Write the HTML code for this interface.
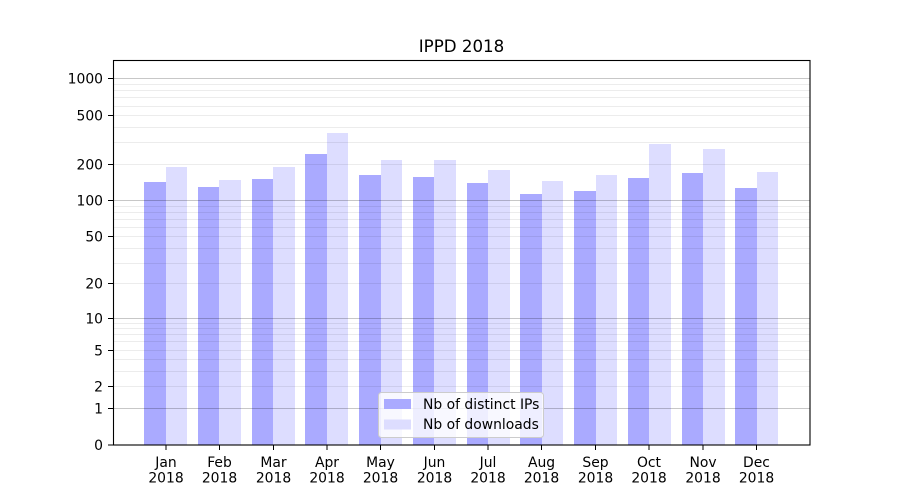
<!DOCTYPE html>
<html>
<head>
<meta charset="utf-8">
<style>
html,body{margin:0;padding:0;background:#fff;}
svg{display:block;}
text{font-family:"DejaVu Sans","Liberation Sans",sans-serif;fill:#000;}
</style>
</head>
<body>
<svg width="900" height="500" viewBox="0 0 900 500" xmlns="http://www.w3.org/2000/svg">
<rect x="0" y="0" width="900" height="500" fill="#fff"/>
<!-- bars -->
<g shape-rendering="crispEdges">
<g fill="#aaaaff">
<rect x="144" y="182" width="22" height="263"/>
<rect x="198" y="187" width="21" height="258"/>
<rect x="252" y="179" width="21" height="266"/>
<rect x="305" y="154" width="22" height="291"/>
<rect x="359" y="175" width="22" height="270"/>
<rect x="413" y="177" width="21" height="268"/>
<rect x="467" y="183" width="21" height="262"/>
<rect x="520" y="194" width="22" height="251"/>
<rect x="574" y="191" width="22" height="254"/>
<rect x="628" y="178" width="21" height="267"/>
<rect x="682" y="173" width="21" height="272"/>
<rect x="735" y="188" width="22" height="257"/>
</g>
<g fill="#ddddff">
<rect x="166" y="167" width="21" height="278"/>
<rect x="219" y="180" width="22" height="265"/>
<rect x="273" y="167" width="22" height="278"/>
<rect x="327" y="133" width="21" height="312"/>
<rect x="381" y="160" width="21" height="285"/>
<rect x="434" y="160" width="22" height="285"/>
<rect x="488" y="170" width="22" height="275"/>
<rect x="542" y="181" width="21" height="264"/>
<rect x="596" y="175" width="21" height="270"/>
<rect x="649" y="144" width="22" height="301"/>
<rect x="703" y="149" width="22" height="296"/>
<rect x="757" y="172" width="21" height="273"/>
</g>
</g>
<!-- minor grid -->
<g stroke="rgba(0,0,0,0.075)" stroke-width="1">
<line x1="113" x2="810" y1="386.5" y2="386.5"/>
<line x1="113" x2="810" y1="371.5" y2="371.5"/>
<line x1="113" x2="810" y1="359.5" y2="359.5"/>
<line x1="113" x2="810" y1="350.5" y2="350.5"/>
<line x1="113" x2="810" y1="341.5" y2="341.5"/>
<line x1="113" x2="810" y1="334.5" y2="334.5"/>
<line x1="113" x2="810" y1="328.5" y2="328.5"/>
<line x1="113" x2="810" y1="323.5" y2="323.5"/>
<line x1="113" x2="810" y1="283.5" y2="283.5"/>
<line x1="113" x2="810" y1="263.5" y2="263.5"/>
<line x1="113" x2="810" y1="248.5" y2="248.5"/>
<line x1="113" x2="810" y1="236.5" y2="236.5"/>
<line x1="113" x2="810" y1="227.5" y2="227.5"/>
<line x1="113" x2="810" y1="219.5" y2="219.5"/>
<line x1="113" x2="810" y1="212.5" y2="212.5"/>
<line x1="113" x2="810" y1="206.5" y2="206.5"/>
<line x1="113" x2="810" y1="164.5" y2="164.5"/>
<line x1="113" x2="810" y1="142.5" y2="142.5"/>
<line x1="113" x2="810" y1="127.5" y2="127.5"/>
<line x1="113" x2="810" y1="115.5" y2="115.5"/>
<line x1="113" x2="810" y1="106.5" y2="106.5"/>
<line x1="113" x2="810" y1="97.5" y2="97.5"/>
<line x1="113" x2="810" y1="90.5" y2="90.5"/>
<line x1="113" x2="810" y1="84.5" y2="84.5"/>
</g>
<!-- major grid -->
<g stroke="rgba(0,0,0,0.22)" stroke-width="1">
<line x1="113" x2="810" y1="408.5" y2="408.5"/>
<line x1="113" x2="810" y1="318.5" y2="318.5"/>
<line x1="113" x2="810" y1="200.5" y2="200.5"/>
<line x1="113" x2="810" y1="78.5" y2="78.5"/>
</g>
<!-- axes spines -->
<rect x="113.5" y="60.5" width="696.5" height="384.5" fill="none" stroke="#000" stroke-width="1.1"/>
<!-- y ticks -->
<g stroke="#000" stroke-width="1">
<line x1="108" x2="113" y1="445" y2="445"/>
<line x1="108" x2="113" y1="408.5" y2="408.5"/>
<line x1="108" x2="113" y1="386.5" y2="386.5"/>
<line x1="108" x2="113" y1="350.5" y2="350.5"/>
<line x1="108" x2="113" y1="318.5" y2="318.5"/>
<line x1="108" x2="113" y1="283.5" y2="283.5"/>
<line x1="108" x2="113" y1="236.5" y2="236.5"/>
<line x1="108" x2="113" y1="200.5" y2="200.5"/>
<line x1="108" x2="113" y1="164.5" y2="164.5"/>
<line x1="108" x2="113" y1="115.5" y2="115.5"/>
<line x1="108" x2="113" y1="78.5" y2="78.5"/>
</g>
<g font-size="13.9" text-anchor="end">
<text x="103" y="450">0</text>
<text x="103" y="413.5">1</text>
<text x="103" y="391.5">2</text>
<text x="103" y="355.5">5</text>
<text x="103" y="323.5">10</text>
<text x="103" y="288.5">20</text>
<text x="103" y="241.5">50</text>
<text x="103" y="205.5">100</text>
<text x="103" y="169.5">200</text>
<text x="103" y="120.5">500</text>
<text x="103" y="83.5">1000</text>
</g>
<!-- x ticks -->
<g stroke="#000" stroke-width="1">
<line x1="166" x2="166" y1="445" y2="450"/>
<line x1="219.5" x2="219.5" y1="445" y2="450"/>
<line x1="273.5" x2="273.5" y1="445" y2="450"/>
<line x1="327" x2="327" y1="445" y2="450"/>
<line x1="380.5" x2="380.5" y1="445" y2="450"/>
<line x1="434.5" x2="434.5" y1="445" y2="450"/>
<line x1="488" x2="488" y1="445" y2="450"/>
<line x1="541.5" x2="541.5" y1="445" y2="450"/>
<line x1="595.5" x2="595.5" y1="445" y2="450"/>
<line x1="649" x2="649" y1="445" y2="450"/>
<line x1="703" x2="703" y1="445" y2="450"/>
<line x1="756.5" x2="756.5" y1="445" y2="450"/>
</g>
<g font-size="13.9" text-anchor="middle">
<text x="166" y="467">Jan</text><text x="166" y="482.5">2018</text>
<text x="219.5" y="467">Feb</text><text x="219.5" y="482.5">2018</text>
<text x="273.5" y="467">Mar</text><text x="273.5" y="482.5">2018</text>
<text x="327" y="467">Apr</text><text x="327" y="482.5">2018</text>
<text x="380.5" y="467">May</text><text x="380.5" y="482.5">2018</text>
<text x="434.5" y="467">Jun</text><text x="434.5" y="482.5">2018</text>
<text x="488" y="467">Jul</text><text x="488" y="482.5">2018</text>
<text x="541.5" y="467">Aug</text><text x="541.5" y="482.5">2018</text>
<text x="595.5" y="467">Sep</text><text x="595.5" y="482.5">2018</text>
<text x="649" y="467">Oct</text><text x="649" y="482.5">2018</text>
<text x="703" y="467">Nov</text><text x="703" y="482.5">2018</text>
<text x="756.5" y="467">Dec</text><text x="756.5" y="482.5">2018</text>
</g>
<!-- title -->
<text x="461.5" y="52" font-size="16.67" text-anchor="middle">IPPD 2018</text>
<!-- legend -->
<rect x="378.5" y="392.5" width="165" height="45" rx="3" ry="3" fill="rgba(255,255,255,0.8)" stroke="#cccccc" stroke-width="1"/>
<rect x="384" y="399" width="27" height="10" fill="#aaaaff"/>
<rect x="384" y="419.5" width="27" height="10" fill="#ddddff"/>
<g font-size="13.9">
<text x="423" y="409">Nb of distinct IPs</text>
<text x="423" y="429">Nb of downloads</text>
</g>
</svg>
</body>
</html>
